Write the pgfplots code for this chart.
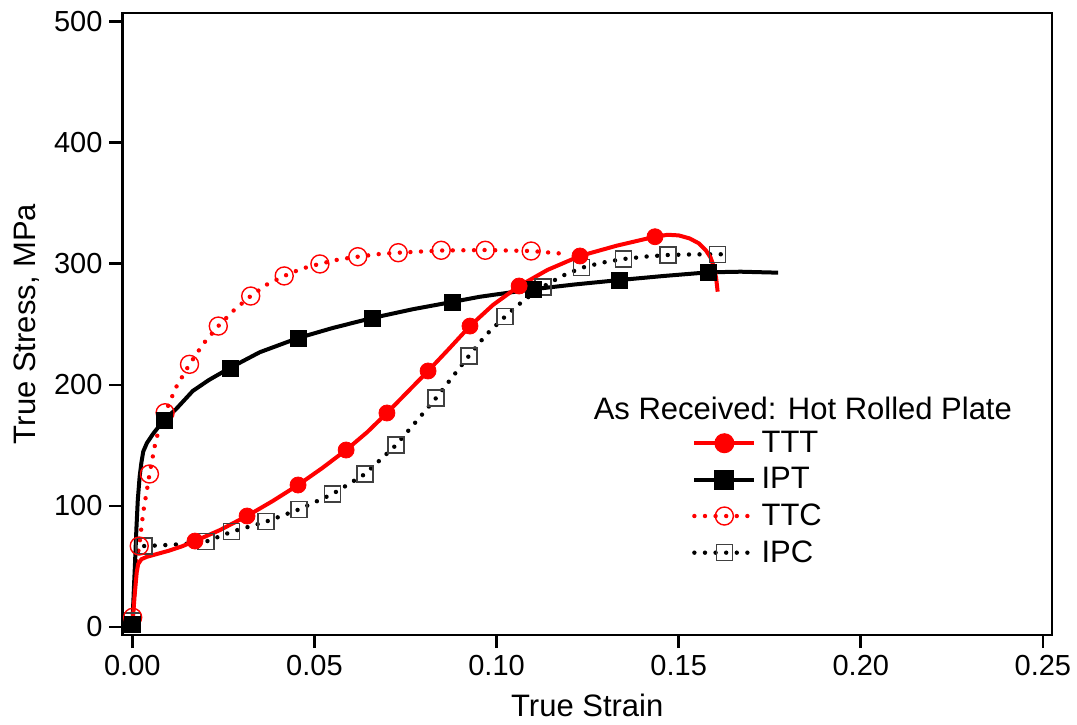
\documentclass[border=0pt]{standalone}
\usepackage{pgfplots}
\pgfplotsset{compat=1.18}
\usepackage{fontspec}
\setmainfont{Liberation Sans}
\newcommand{\ff}{\fontsize{15.5}{18.6}\selectfont}
\newcommand{\tf}{\fontsize{14.5}{17.4}\selectfont}
\begin{document}
\begin{tikzpicture}
\begin{axis}[
  name=ax,
  scale only axis,
  width=464.75pt, height=311pt,
  xmin=-0.0027, xmax=0.2525,
  ymin=-6.6, ymax=507.2,
  xtick={0,0.05,0.10,0.15,0.20,0.25},
  ytick={0,100,200,300,400,500},
  xticklabel style={/pgf/number format/fixed,/pgf/number format/fixed zerofill,/pgf/number format/precision=2},
  /pgf/number format/assume math mode=true,
  tick label style={font=\tf},
  label style={font=\ff},
  xlabel={True Strain},
  ylabel={True Stress, MPa},
  xtick pos=left, ytick pos=left,
  tick align=outside,
  major tick length=6.5pt,
  axis line style={line width=1.35pt},
  major tick style={line width=1.35pt, black},
  xlabel style={at={(axis description cs:0.5,0)}, anchor=north, yshift=-26pt},
  ylabel style={at={(axis description cs:0,0.5)}, anchor=south, yshift=38pt},
  legend style={draw=none, fill=none, font=\ff, at={(axis description cs:0.606,0.343)}, anchor=north west,
    row sep=1pt, nodes={inner sep=2.5pt}},
  legend cell align=left,
  legend image code/.code={\draw[mark repeat=2,mark phase=2] plot coordinates {(0pt,0pt) (15pt,0pt) (30pt,0pt)};},
]
% ---------------- IPC (black dotted, open squares)
\addplot[forget plot, black, line width=2.2pt, line cap=round, dash pattern=on 0pt off 5.3pt] coordinates {
(0,0)(0.0004,20)(0.0008,40)(0.0013,58)(0.0018,65)(0.0032,66.9)(0.008,67.5)(0.014,68.5)(0.0202,70.5)(0.0273,78.7)(0.0367,87)(0.0458,97.2)(0.055,109.9)(0.0639,126.4)(0.0724,150.3)(0.078,170)(0.0834,189.2)(0.088,207)(0.0924,223.9)(0.097,241)(0.1023,256.3)(0.1075,270)(0.1127,281)(0.118,290)(0.1234,296.8)(0.129,301)(0.1348,304)(0.141,306)(0.1471,307.3)(0.154,307.8)(0.1606,307.9)(0.1641,307.9)};
\addplot[forget plot, only marks, mark=square, mark size=4pt, draw=black!75, line width=0.7pt] coordinates {
(0,5)(0.0032,66.9)(0.0202,70.5)(0.0273,78.7)(0.0367,87)(0.0458,97.2)(0.055,109.9)(0.0639,126.4)(0.0724,150.3)(0.0834,189.2)(0.0924,223.9)(0.1023,256.3)(0.1127,281)(0.1234,296.8)(0.1348,304)(0.1471,307.3)(0.1606,307.9)};
% ---------------- TTC (red dotted, open circles)
\addplot[forget plot, red, line width=2.2pt, line cap=round, dash pattern=on 0pt off 5.3pt] coordinates {
(0,2)(0.0001,8)(0.0006,35)(0.0012,55)(0.0019,67)(0.003,95)(0.004,113)(0.0047,126)(0.0065,155)(0.009,177)(0.012,198)(0.0157,217)(0.0195,234)(0.0236,248.6)(0.028,262)(0.0325,273.4)(0.037,283)(0.0417,290)(0.0465,296)(0.0515,300)(0.0565,303.5)(0.0619,305.9)(0.0675,308)(0.073,309.2)(0.0848,311)(0.0969,311.4)(0.1095,310.6)(0.1197,308)};
\addplot[forget plot, only marks, mark=o, mark size=4.5pt, draw=red, line width=0.7pt] coordinates {
(0.0001,8)(0.0019,66.9)(0.0047,126.4)(0.0090,177)(0.0157,217)(0.0236,248.6)(0.0325,273.4)(0.0417,290)(0.0515,299.9)(0.0619,305.9)(0.0730,309.2)(0.0848,311.2)(0.0969,311.2)(0.1095,310.6)};
% ---------------- IPT (black solid, filled squares)
\addplot[forget plot, black, line width=2pt] coordinates {
(0,0)(0.0004,30)(0.0007,50)(0.0011,80)(0.0015,105)(0.002,124)(0.0025,136)(0.003,145)(0.004,152)(0.0058,160)(0.0087,171)(0.012,180)(0.0166,195)(0.021,204)(0.0268,214)(0.035,227)(0.0455,238.7)(0.055,247)(0.0658,255.2)(0.077,262.5)(0.0878,268.5)(0.0954,272.8)(0.1100,279)(0.1216,283)(0.1337,286.6)(0.146,290)(0.1582,293)(0.167,293.5)(0.1773,292.7)};
\addplot[forget plot, only marks, mark=square*, mark size=4pt, black] coordinates {
(0,2)(0.0087,171)(0.0268,214)(0.0455,238.7)(0.0658,255.2)(0.0878,268.5)(0.1100,279)(0.1337,286.6)(0.1582,293)};
% ---------------- TTT (red solid, filled circles)
\addplot[forget plot, red, line width=2pt] coordinates {
(0,0)(0.0006,25)(0.0012,45)(0.0016,52)(0.0025,56)(0.004,58)(0.007,60.5)(0.010,63)(0.0135,66.5)(0.0172,71)(0.024,80)(0.0315,91.7)(0.0385,104)(0.0455,117.3)(0.052,131)(0.0587,146.2)(0.0645,161)(0.0699,176.8)(0.0755,194)(0.0812,211.5)(0.087,230)(0.0927,248.6)(0.099,266)(0.1062,281.7)(0.114,295)(0.1229,306.5)(0.133,315)(0.1435,322.4)(0.147,324)(0.150,323.5)(0.153,321)(0.1555,317)(0.1575,311)(0.1588,305)(0.1597,297)(0.1603,288)(0.1607,277)};
\addplot[forget plot, only marks, mark=*, mark size=4pt, red] coordinates {
(0.0172,71)(0.0315,91.7)(0.0455,117.3)(0.0587,146.2)(0.0699,176.8)(0.0812,211.5)(0.0927,248.6)(0.1062,281.7)(0.1229,306.5)(0.1435,322.4)};
% ---------------- legend
\addlegendimage{red, line width=2pt, mark=*, mark size=4pt}
\addlegendentry{TTT}
\addlegendimage{black, line width=2pt, mark=square*, mark size=4pt}
\addlegendentry{IPT}
\addlegendimage{red, line width=2.2pt, line cap=round, dash pattern=on 0pt off 5.3pt, mark=o, mark size=4.5pt, mark options={solid, line width=0.7pt}}
\addlegendentry{TTC}
\addlegendimage{black, line width=2.2pt, line cap=round, dash pattern=on 0pt off 5.3pt, mark=square, mark size=4pt, mark options={solid, line width=0.7pt, draw=black!75}}
\addlegendentry{IPC}
\node[font=\ff, anchor=center] at (axis cs:0.1841,180.9) {As Received: Hot Rolled Plate};
\end{axis}
\pgfresetboundingbox
\path (-61.25pt,-44.5pt) rectangle (477.25pt,317.5pt);
\end{tikzpicture}
\end{document}
